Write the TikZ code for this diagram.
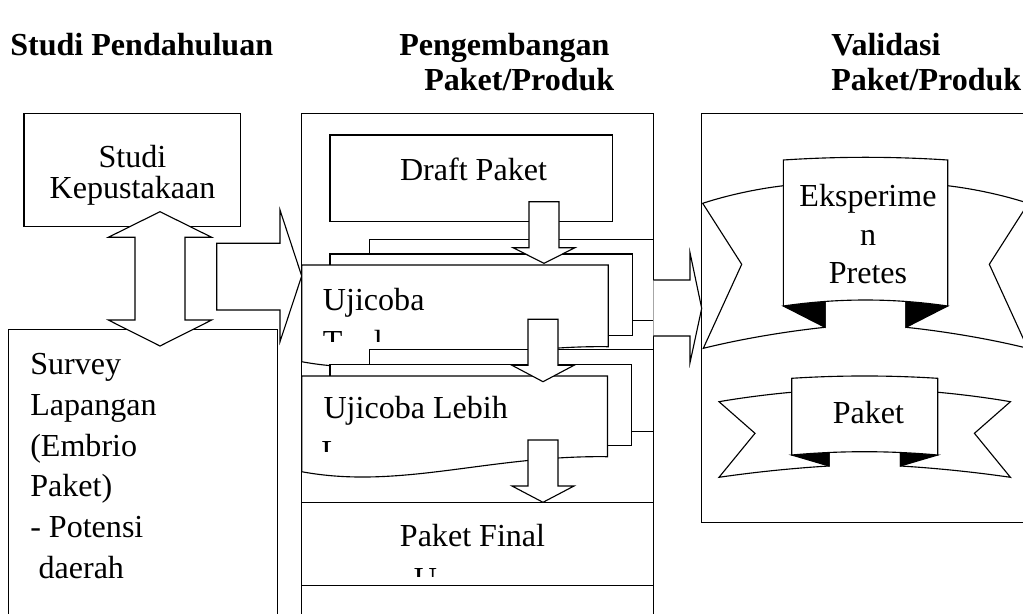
\documentclass[tikz,border=0pt]{standalone}
\usepackage{fontspec}
\setmainfont{LiberationSerif}[Extension=.ttf, UprightFont=*-Regular, BoldFont=*-Bold, ItalicFont=*-Italic, BoldItalicFont=*-BoldItalic]

\begin{document}
\begin{tikzpicture}[
                x=0.025cm, y=-0.025cm,
                box/.style={draw, fill=white, line width=0.8pt},
                page/.style={draw, fill=white, line width=0.8pt},
                blockarrow/.style={draw, fill=white, line width=0.8pt},
                fold/.style={draw, fill=black, line width=0.8pt},
                head/.style={font=\rmfamily\bfseries\fontsize{22.8}{25}\selectfont, inner sep=0pt},
                txt/.style={font=\rmfamily\fontsize{22.8}{27.5}\selectfont, inner sep=0pt}
            ]
                \useasboundingbox (0,0) rectangle (1023,613);

                % Headings
                \node[head, anchor=base west] (hStudi) at (10,55) {Studi Pendahuluan};
                \node[head, anchor=base west] (hDevA) at (399,55) {Pengembangan};
                \node[head, anchor=base west] (hDevB) at (424,90) {Paket/Produk};
                \node[head, anchor=base west] (hValA) at (831,55) {Validasi};
                \node[head, anchor=base west] (hValB) at (831,90) {Paket/Produk};

                % Studi Pendahuluan (left column)
                \draw[box] (24,113.3) rectangle (240.7,226.7);
                \node[txt, align=center, anchor=north, font=\fontsize{22.8}{22.5}\selectfont] (kepustakaan) at (132.5,144.8) {Studi\\Kepustakaan};
                \draw[box] (8.3,329.3) rectangle (277.8,640);
                \node[txt, align=left, anchor=north west, font=\fontsize{22.8}{28.9}\selectfont] (survey) at (30,353.4) {Survey\\Lapangan\\(Embrio\\Paket)\\- Potensi\\\hspace*{5.9pt}daerah};
                \draw[blockarrow] (160,211.7) -- (211.7,237.3) -- (185,237.3) -- (185,320) -- (211.7,320) -- (160,346)
                    -- (108.3,320) -- (135,320) -- (135,237.3) -- (108.3,237.3) -- cycle;
                \draw[blockarrow] (216.7,243.3) -- (280,243.3) -- (280,210) -- (301.7,276) -- (280,341.7) -- (280,310) -- (216.7,310) -- cycle;

                % Pengembangan (middle column)
                \draw[box] (301.7,113.3) rectangle (653.3,640);
                \draw[box] (330,135) rectangle (612.3,221.7);
                \node[txt, anchor=base] (draft) at (473.5,180) {Draft Paket};

                % Ujicoba stack 1
                \draw[page] (369.3,239.3) rectangle (653.3,320.7);
                \draw[page] (330,254) rectangle (632.7,335.3);
                \draw[page] (301.7,265) -- (608.3,265) -- (608.3,346.7) .. controls (490,345) and (400,380) .. (301.7,361.7) -- cycle;
                \node[txt, anchor=base west] (ujiA) at (322.7,310) {Ujicoba};
                \begin{scope}
                    \clip (305,320) rectangle (600,341.7);
                    \node[txt, anchor=base west] (ujiAt) at (322.7,352.9) {T};
                    \node[txt, anchor=base west] (ujiAl) at (373.5,352.9) {l};
                \end{scope}

                % Ujicoba stack 2
                \draw[page] (369.3,349.3) rectangle (653.3,431.7);
                \draw[page] (330,364.3) rectangle (631.7,445.7);
                \draw[page] (301.7,376) -- (607.5,376) -- (607.5,456.7) .. controls (490,455) and (400,490) .. (301.7,471.7) -- cycle;
                \node[txt, anchor=base west] (ujiB) at (323.3,418.3) {Ujicoba Lebih};
                \begin{scope}
                    \clip (305,430) rectangle (600,451.7);
                    \node[txt, anchor=base west] (ujiBl) at (321,462.9) {L};
                \end{scope}

                % Paket Final
                \draw[box] (301.7,502.3) rectangle (653.3,585.7);
                \node[txt, anchor=base] (final) at (472.5,546.7) {Paket Final};
                \begin{scope}
                    \clip (305,560) rectangle (640,576.7);
                    \node[txt, anchor=base west] (finalU) at (413.5,589.2) {U};
                \end{scope}

                % Down arrows
                \draw[blockarrow] (529,201.7) -- ++(30,0) -- ++(0,46) -- ++(16,0) -- (544,263.3) -- (513,247.7) -- ++(16,0) -- cycle;
                \draw[blockarrow] (528,319.3) -- ++(30,0) -- ++(0,46) -- ++(16,0) -- (543,381.7) -- (512,365.3) -- ++(16,0) -- cycle;
                \draw[blockarrow] (528,440) -- ++(30,0) -- ++(0,46) -- ++(16,0) -- (543,502.3) -- (512,486) -- ++(16,0) -- cycle;

                % Validasi (right column)
                \draw[box] (701.7,113.3) rectangle (1040,522.7);
                \draw[blockarrow] (653.3,280) -- (690,280) -- (690,252.7) -- (701.7,308.3) -- (690,362.7) -- (690,336) -- (653.3,336);

                % Ribbon Eksperimen Pretes
                \draw[page] (790,185) .. controls (760,188) and (728,195) .. (702.7,203.3) -- (741.7,264.3) -- (703.3,348.3)
                    .. controls (745,338) and (790,331) .. (825,327.3) -- (825,300) -- (790,300) -- cycle;
                \draw[fold] (783.3,306) -- (825,300.5) -- (825,327.3) -- cycle;
                \begin{scope}[shift={(1731,0)}, xscale=-1]
                    \draw[page] (790,185) .. controls (760,188) and (728,195) .. (702.7,203.3) -- (741.7,264.3) -- (703.3,348.3)
                        .. controls (745,338) and (790,331) .. (825,327.3) -- (825,300) -- (790,300) -- cycle;
                    \draw[fold] (783.3,306) -- (825,300.5) -- (825,327.3) -- cycle;
                \end{scope}
                \draw[page] (783.3,160) .. controls (838,156.4) and (893,156.4) .. (947.7,160) -- (947.7,306)
                    .. controls (893,298) and (838,298) .. (783.3,306) -- cycle;
                \node[txt, align=center, anchor=north, font=\fontsize{22.8}{27.5}\selectfont] (eksperimen) at (868,184.1) {Eksperime\\n\\Pretes};

                % Ribbon Paket
                \draw[page] (798,391.7) .. controls (770,394) and (740,398) .. (719,401.7) -- (755,433.3) -- (719,477.3)
                    .. controls (755,472) and (795,468) .. (829,466) -- (829,450) -- (798,450) -- cycle;
                \draw[fold] (791.7,455) -- (829,452) -- (829,466) -- cycle;
                \begin{scope}[shift={(1729.4,0)}, xscale=-1]
                    \draw[page] (798,391.7) .. controls (770,394) and (740,398) .. (719,401.7) -- (755,433.3) -- (719,477.3)
                        .. controls (755,472) and (795,468) .. (829,466) -- (829,450) -- (798,450) -- cycle;
                    \draw[fold] (791.7,455) -- (829,452) -- (829,466) -- cycle;
                \end{scope}
                \draw[page] (791.7,378.3) .. controls (840,375.2) and (889,375.2) .. (937.7,378.3) -- (937.7,455)
                    .. controls (889,450.6) and (840,450.6) .. (791.7,455) -- cycle;
                \node[txt, anchor=base] (paket) at (868.5,423.3) {Paket};
            \end{tikzpicture}
\end{document}
